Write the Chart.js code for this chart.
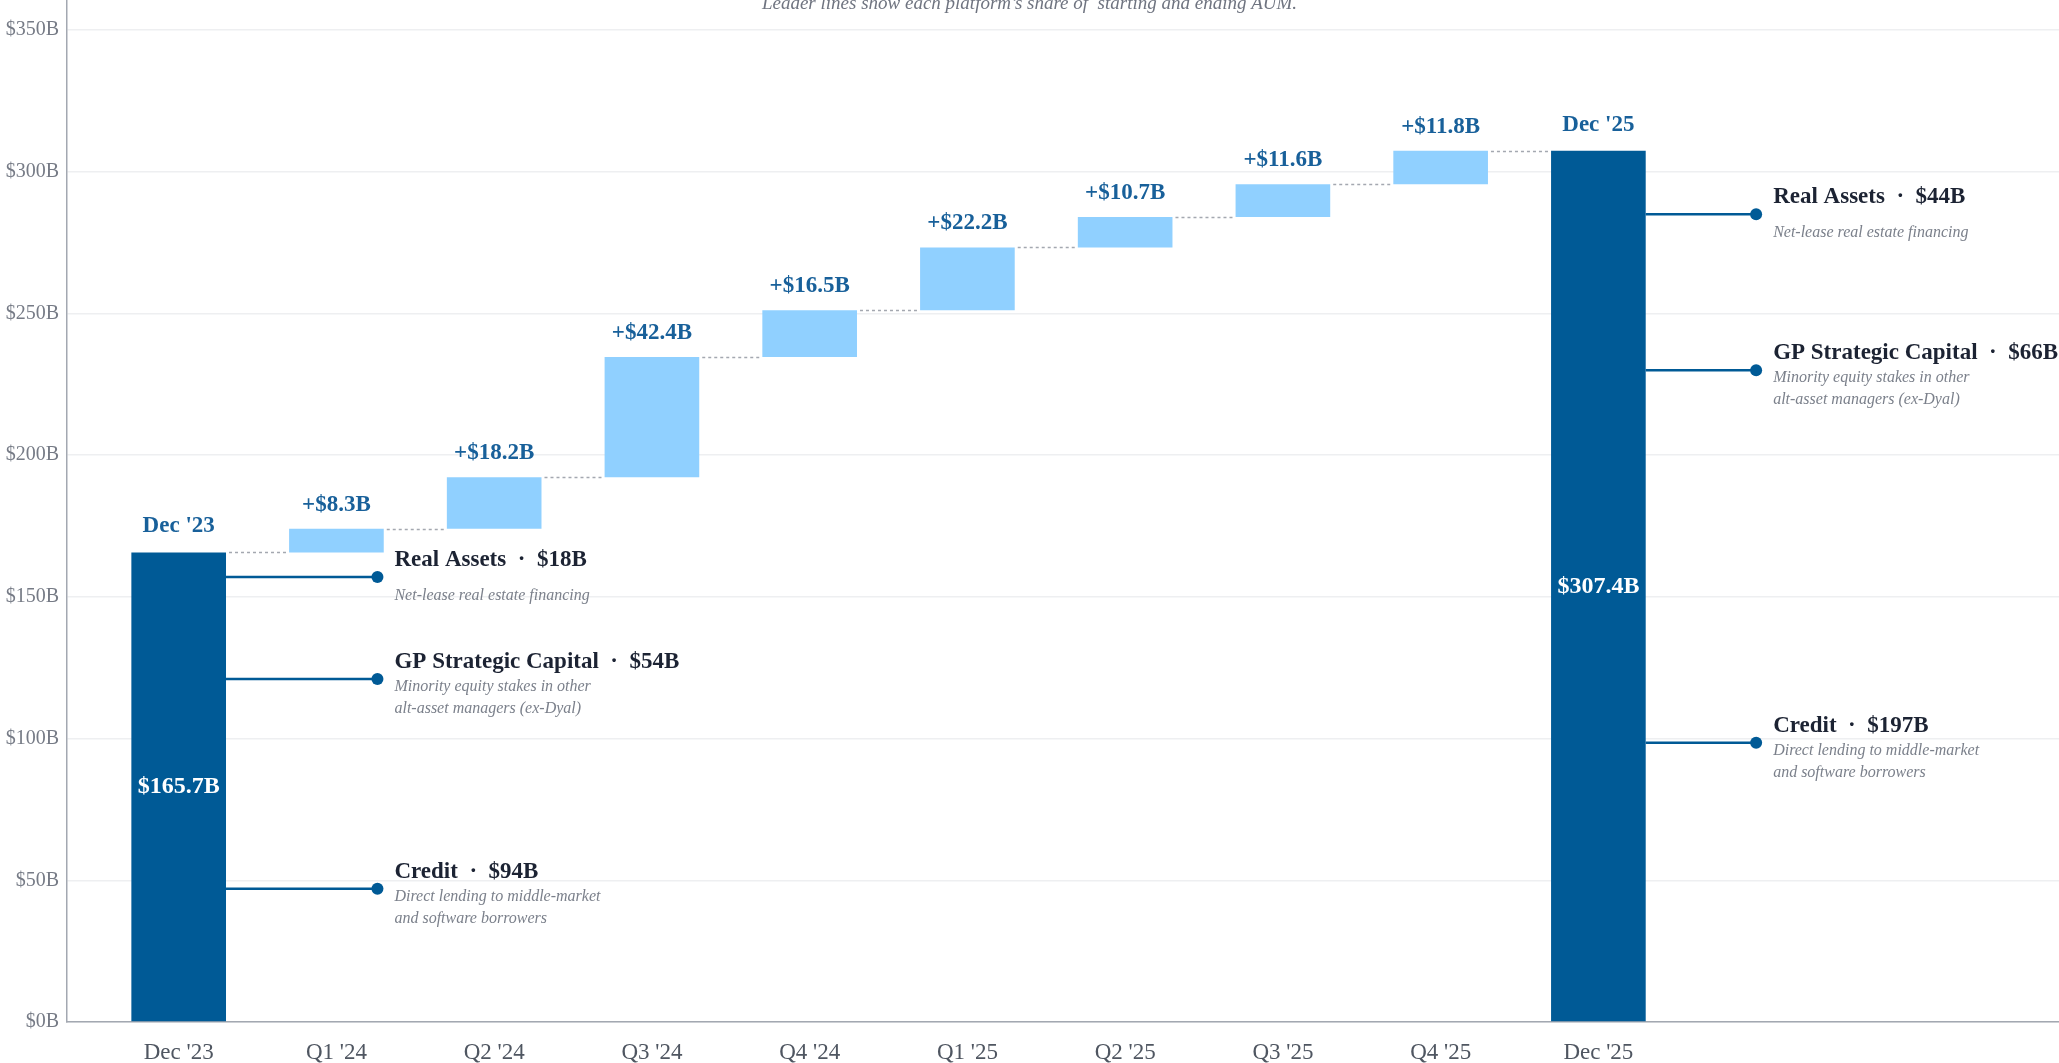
<!DOCTYPE html>
<html>
<head>
<meta charset="utf-8">
<script src="https://cdn.jsdelivr.net/npm/chart.js@4.4.1/dist/chart.umd.min.js"></script>
<style>
  html, body { margin: 0; padding: 0; background: #fff; }
  #wrap { width: 2059px; height: 1063px; position: relative; }
</style>
</head>
<body>
<div id="wrap"><canvas id="aum"></canvas></div>
<script>
// AUM bridge: Dec '23 -> Dec '25, quarterly adds in between
const periods = ["Dec '23", "Q1 '24", "Q2 '24", "Q3 '24", "Q4 '24", "Q1 '25", "Q2 '25", "Q3 '25", "Q4 '25", "Dec '25"];
const startAum = 165.7;
const endAum = 307.4;
const quarterAdds = [8.3, 18.2, 42.4, 16.5, 22.2, 10.7, 11.6, 11.8];

// platform split of the two end bars (bottom to top)
const platforms = ["Credit", "GP Strategic Capital", "Real Assets"];
const platformNotes = [
  ["Direct lending to middle-market", "and software borrowers"],
  ["Minority equity stakes in other", "alt-asset managers (ex-Dyal)"],
  ["Net-lease real estate financing"]
];
const startShares = [94, 54, 18];
const endShares = [197, 66, 44];

const subtitle = "Leader lines show each platform\u2019s share of  starting and ending AUM.";

const SERIF = "'Liberation Serif', 'Times New Roman', serif";
const DARK = "#005a96";
const LIGHT = "#90d0ff";
const LABEL_BLUE = "#18609a";

// floating bars for the waterfall
const bars = [{ x: 0, y: [0, startAum] }];
let run = startAum;
quarterAdds.forEach((d, i) => {
  const top = Math.round((run + d) * 10) / 10;
  bars.push({ x: i + 1, y: [run, top] });
  run = top;
});
bars.push({ x: periods.length - 1, y: [0, endAum] });

const barColors = bars.map((b, i) => (i === 0 || i === bars.length - 1) ? DARK : LIGHT);
const topLabels = bars.map((b, i) =>
  (i === 0 || i === bars.length - 1) ? periods[i] : "+$" + quarterAdds[i - 1].toFixed(1) + "B");

function leaders(chart, barIdx, shares, dotX) {
  const { ctx, scales: { x, y } } = chart;
  const bar = chart.getDatasetMeta(0).data[barIdx];
  const x0 = bar.x + bar.width / 2;
  const px = x.getPixelForValue(dotX);
  let base = 0;
  shares.forEach((s, k) => {
    const py = y.getPixelForValue(base + s / 2);
    base += s;
    ctx.strokeStyle = DARK;
    ctx.lineWidth = 2.5;
    ctx.setLineDash([]);
    ctx.beginPath();
    ctx.moveTo(x0, py);
    ctx.lineTo(px, py);
    ctx.stroke();
    ctx.fillStyle = DARK;
    ctx.beginPath();
    ctx.arc(px, py, 6, 0, Math.PI * 2);
    ctx.fill();

    const tx = px + 17;
    ctx.textAlign = "left";
    ctx.textBaseline = "middle";
    ctx.fillStyle = "#1c2333";
    ctx.font = "bold 23px " + SERIF;
    ctx.fillText(platforms[k] + "  \u00b7  $" + s + "B", tx, py - 17);
    const notes = platformNotes[k];
    ctx.fillStyle = "#7b808b";
    ctx.font = "italic 16px " + SERIF;
    notes.forEach((line, j) => {
      ctx.fillText(line, tx, py + 19 + (j - (notes.length - 1) / 2) * 22);
    });
  });
}

const overlay = {
  id: "overlay",
  afterDatasetsDraw(chart) {
    const { ctx, scales: { y } } = chart;
    const pts = chart.getDatasetMeta(0).data;
    ctx.save();

    // dotted connectors between consecutive bar tops
    ctx.strokeStyle = "#a4a8b0";
    ctx.lineWidth = 1.5;
    ctx.setLineDash([3, 3]);
    for (let i = 0; i < pts.length - 1; i++) {
      const a = pts[i], b = pts[i + 1];
      const py = Math.round(y.getPixelForValue(bars[i].y[1])) + 0.5;
      ctx.beginPath();
      ctx.moveTo(a.x + a.width / 2 + 3, py);
      ctx.lineTo(b.x - b.width / 2 - 3, py);
      ctx.stroke();
    }
    ctx.setLineDash([]);

    // labels above each bar
    ctx.textAlign = "center";
    ctx.textBaseline = "middle";
    ctx.fillStyle = LABEL_BLUE;
    ctx.font = "bold 23px " + SERIF;
    pts.forEach((p, i) => {
      const lift = (i === 0 || i === pts.length - 1) ? 26 : 24;
      ctx.fillText(topLabels[i], p.x, y.getPixelForValue(bars[i].y[1]) - lift);
    });

    // totals inside the end bars
    ctx.fillStyle = "#ffffff";
    ctx.font = "bold 24px " + SERIF;
    [0, pts.length - 1].forEach(i => {
      const v = bars[i].y[1];
      ctx.fillText("$" + v.toFixed(1) + "B", pts[i].x, y.getPixelForValue(v / 2));
    });

    leaders(chart, 0, startShares, 1.26);
    leaders(chart, pts.length - 1, endShares, 10.0);

    ctx.restore();
  },
  afterDraw(chart) {
    const { ctx, width } = chart;
    ctx.save();
    ctx.fillStyle = "#6f7480";
    ctx.font = "italic 19px " + SERIF;
    ctx.textAlign = "center";
    ctx.textBaseline = "alphabetic";
    ctx.fillText(subtitle, width / 2, 9);
    ctx.restore();
  }
};

Chart.defaults.font.family = SERIF;

new Chart(document.getElementById("aum"), {
  type: "bar",
  data: {
    datasets: [{
      data: bars,
      backgroundColor: barColors,
      borderWidth: 0,
      barPercentage: 1,
      categoryPercentage: 0.6
    }]
  },
  options: {
    responsive: true,
    maintainAspectRatio: false,
    animation: false,
    devicePixelRatio: 1,
    layout: { padding: 0 },
    plugins: { legend: { display: false }, tooltip: { enabled: false } },
    scales: {
      x: {
        type: "linear",
        min: -0.708,
        max: 11.92,
        offset: false,
        grid: { display: false, drawTicks: false, offset: false },
        border: { color: "#a3a8b1", width: 1.5 },
        ticks: {
          stepSize: 1,
          autoSkip: false,
          includeBounds: false,
          maxRotation: 0,
          padding: 17,
          color: "#4f5661",
          font: { size: 23 },
          callback: v => periods[v] ?? ""
        },
        afterFit: s => { s.height = 41; s.paddingLeft = 0; s.paddingRight = 0; }
      },
      y: {
        min: 0,
        max: 360.6,
        grid: { color: "#eeeff1", lineWidth: 1.5, drawTicks: false },
        border: { color: "#a3a8b1", width: 1.5 },
        ticks: {
          stepSize: 50,
          includeBounds: false,
          padding: 8,
          color: "#767b86",
          font: { size: 20 },
          callback: v => "$" + v + "B"
        },
        afterFit: s => { s.width = 67; s.paddingTop = 0; s.paddingBottom = 0; }
      }
    }
  },
  plugins: [overlay]
});
</script>
</body>
</html>
